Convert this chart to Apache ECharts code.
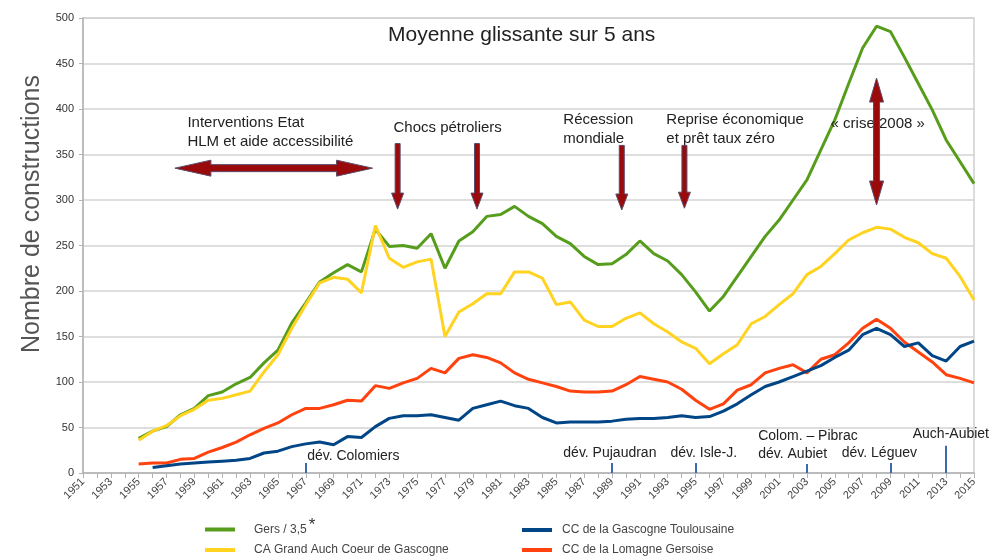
<!DOCTYPE html>
<html>
<head>
<meta charset="utf-8" />
<title>Moyenne glissante sur 5 ans</title>
<script src="https://cdn.jsdelivr.net/npm/echarts@6/dist/echarts.min.js"></script>
</head>
<body style="margin:0">
<div id="main" style="width:992px;height:559px;"></div>
<script>
// années 1951 - 2015
var years = [];
for (var y = 1951; y <= 2015; y++) years.push(String(y));

// moyenne glissante 5 ans (1951 -> 2015)
var gers = [null, null, null, null,
	38, 46, 51, 64, 71, 85, 89, 98, 105, 121, 135, 165, 187, 210, 220, 229, 221, 268, 249, 250, 247,
	263, 225, 255, 265, 282, 284, 293, 282, 274, 260, 252, 238, 229, 230, 240, 255, 241, 233, 218, 199,
	178, 194, 216, 238, 260, 278, 300, 322, 355, 388, 428, 467, 491, 485, 457, 428, 399, 366, 342, 318];
var grandAuch = [null, null, null, null,
	36, 46, 52, 63, 70, 80, 82, 86, 90, 111, 130, 159, 185, 209, 215, 213, 198, 272, 236, 226, 232,
	235, 150, 177, 186, 197, 197, 221, 221, 214, 185, 188, 168, 161, 161, 170, 176, 164, 155, 144, 137,
	120, 131, 141, 164, 172, 185, 197, 218, 227, 241, 256, 264, 270, 268, 259, 253, 241, 236, 216, 190];
var gascogneToul = [null, null, null, null, null,
	6, 8, 10, 11, 12, 13, 14, 16, 22, 24, 29, 32, 34, 31, 40, 39, 51, 60, 63, 63,
	64, 61, 58, 71, 75, 79, 74, 71, 61, 55, 56, 56, 56, 57, 59, 60, 60, 61, 63, 61,
	62, 68, 76, 86, 95, 100, 106, 112, 118, 127, 135, 152, 159, 152, 139, 143, 129, 123, 139, 145];
var lomagne = [null, null, null, null,
	10, 11, 11, 15, 16, 23, 28, 34, 42, 49, 55, 64, 71, 71, 75, 80, 79, 96, 93, 99, 104,
	115, 110, 126, 130, 127, 121, 110, 103, 99, 95, 90, 89, 89, 90, 97, 106, 103, 100, 92, 80,
	70, 76, 91, 97, 110, 115, 119, 110, 125, 130, 143, 159, 169, 159, 144, 133, 122, 108, 104, 99];

var names = ['Gers / 3,5', 'CA Grand Auch Coeur de Gascogne', 'CC de la Gascogne Toulousaine', 'CC de la Lomagne Gersoise'];
var colors = ['#579d1c', '#ffd320', '#004586', '#ff420e'];

// déviations routières (année, hauteur du repère)
var devYears = ['1967', '1989', '1995', '2003', '2009', '2013'];
var devHeights = [11, 11, 11, 10, 11, 30];

// textes d'annotation : [année, valeur, texte, taille]
var notes = [
	[1958.5, 374, 'Interventions Etat\nHLM et aide accessibilité', 15],
	[1973.3, 379, 'Chocs pétroliers', 15],
	[1985.5, 378, 'Récession\nmondiale', 15],
	[1992.9, 377.5, 'Reprise économique\net prêt taux zéro', 15],
	[2004.7, 383.5, '« crise 2008 »', 15],
	[1967.1, 18.7, 'dév. Colomiers', 14],
	[1985.5, 22, 'dév. Pujaudran', 14],
	[1993.2, 22, 'dév. Isle-J.', 14],
	[1999.5, 30.8, 'Colom. – Pibrac\ndév. Aubiet', 14],
	[2005.5, 22, 'dév. Léguev', 14],
	[2010.6, 42.9, 'Auch-Aubiet', 14]
];
// flèches vers le bas : année, valeur haute, valeur basse
var downArrows = [[1973.6, 362, 290], [1979.3, 362, 290], [1989.7, 360, 289], [1994.2, 360, 291]];

var chart = echarts.init(document.getElementById('main'));

function lineSeries(i, data) {
	return {
		name: names[i],
		type: 'line',
		data: data,
		symbol: 'none',
		animation: false,
		lineStyle: { width: 3, color: colors[i] },
		itemStyle: { color: colors[i] }
	};
}

var series = [lineSeries(0, gers), lineSeries(1, grandAuch), lineSeries(3, lomagne), lineSeries(2, gascogneToul)];
series[3].markLine = {
	silent: true,
	symbol: ['none', 'none'],
	animation: false,
	label: { show: false },
	lineStyle: { color: '#3a6ab0', width: 2, type: 'solid' },
	data: devYears.map(function (yr, i) {
		return [{ coord: [yr, 0] }, { coord: [yr, devHeights[i]] }];
	})
};

var font = 'Liberation Sans, Arial, sans-serif';

// une légende par entrée pour garder les deux colonnes
var legendPos = [[200, 512, 14], [200, 539, 14], [517, 519, 5], [517, 539, 5]];
var legends = names.map(function (n, i) {
	return {
		data: [n],
		left: legendPos[i][0], top: legendPos[i][1],
		itemWidth: 30, itemHeight: 4,
		icon: 'rect',
		textStyle: {
			fontSize: 12, color: '#444', fontFamily: font,
			padding: [0, 0, 0, legendPos[i][2]],
			rich: { s: { fontSize: 17, color: '#333', padding: [0, 0, 8, 2] } }
		},
		formatter: function (name) { return name === names[0] ? name + '{s|*}' : name; }
	};
});

chart.setOption({
	textStyle: { fontFamily: font },
	title: {
		text: 'Moyenne glissante sur 5 ans',
		left: 383,
		top: 20,
		textStyle: { fontSize: 21, fontWeight: 'normal', color: '#222', fontFamily: font }
	},
	grid: {
		left: 83, right: 18, top: 18, bottom: 86,
		show: true, borderColor: '#d0d0d0', borderWidth: 1.5
	},
	legend: legends,
	xAxis: {
		type: 'category',
		data: years,
		boundaryGap: false,
		axisLine: { lineStyle: { color: '#b3b3b3', width: 1.5 } },
		axisTick: { show: true, interval: 0, length: 5, lineStyle: { color: '#b3b3b3' } },
		axisLabel: { rotate: 45, interval: 1, fontSize: 11, color: '#444', margin: 7 },
		splitLine: { show: false }
	},
	yAxis: {
		type: 'value',
		min: 0, max: 500, interval: 50,
		axisLine: { show: true, lineStyle: { color: '#b3b3b3', width: 1.5 } },
		axisTick: { show: true, length: 4, lineStyle: { color: '#b3b3b3' } },
		axisLabel: { fontSize: 11, color: '#333', margin: 9 },
		splitLine: { lineStyle: { color: '#d3d3d3', width: 1.5 } }
	},
	series: series
});

// position en pixels à partir des échelles de l'axe
function px(year, val) {
	var a = chart.convertToPixel({ xAxisIndex: 0, yAxisIndex: 0 }, [0, 0]);
	var b = chart.convertToPixel({ xAxisIndex: 0, yAxisIndex: 0 }, [1, 100]);
	return [a[0] + (year - 1951) * (b[0] - a[0]), a[1] + val * (b[1] - a[1]) / 100];
}

var arrowStyle = { fill: '#9a0a0a', stroke: '#5b4a6a', lineWidth: 1 };
var graphics = [];

notes.forEach(function (n) {
	var p = px(n[0], n[1]);
	graphics.push({
		type: 'text', x: p[0], y: p[1], z: 50,
		style: {
			text: n[2], fontSize: n[3], fill: '#222', fontFamily: font,
			align: 'left', verticalAlign: 'middle', lineHeight: n[3] + 4
		}
	});
});

downArrows.forEach(function (d) {
	var t = px(d[0], d[1]), b = px(d[0], d[2]);
	var cx = t[0], y1 = t[1], y2 = b[1];
	graphics.push({
		type: 'polygon', z: 60,
		shape: { points: [[cx - 2.5, y1], [cx + 2.5, y1], [cx + 2.5, y2 - 16], [cx + 6, y2 - 16], [cx, y2], [cx - 6, y2 - 16], [cx - 2.5, y2 - 16]] },
		style: arrowStyle
	});
});

// double flèche horizontale
(function () {
	var l = px(1957.6, 335), r = px(1971.8, 335);
	var cy = l[1], x1 = l[0], x2 = r[0];
	graphics.push({
		type: 'polygon', z: 60,
		shape: { points: [[x1, cy], [x1 + 36, cy - 8], [x1 + 36, cy - 3.5], [x2 - 36, cy - 3.5], [x2 - 36, cy - 8], [x2, cy],
			[x2 - 36, cy + 8], [x2 - 36, cy + 3.5], [x1 + 36, cy + 3.5], [x1 + 36, cy + 8]] },
		style: arrowStyle
	});
})();

// double flèche verticale « crise 2008 »
(function () {
	var t = px(2008, 434), b = px(2008, 294.5);
	var cx = t[0], y1 = t[1], y2 = b[1];
	graphics.push({
		type: 'polygon', z: 60,
		shape: { points: [[cx, y1], [cx + 7, y1 + 24], [cx + 3, y1 + 24], [cx + 3, y2 - 24], [cx + 7, y2 - 24], [cx, y2],
			[cx - 7, y2 - 24], [cx - 3, y2 - 24], [cx - 3, y1 + 24], [cx - 7, y1 + 24]] },
		style: arrowStyle
	});
})();

// titre de l'axe vertical
graphics.push({
	type: 'text', x: 32, y: 214, rotation: Math.PI / 2,
	style: { text: 'Nombre de constructions', fontSize: 25, fill: '#555', fontFamily: font, align: 'center', verticalAlign: 'middle' }
});

chart.setOption({ graphic: graphics });
</script>
</body>
</html>
